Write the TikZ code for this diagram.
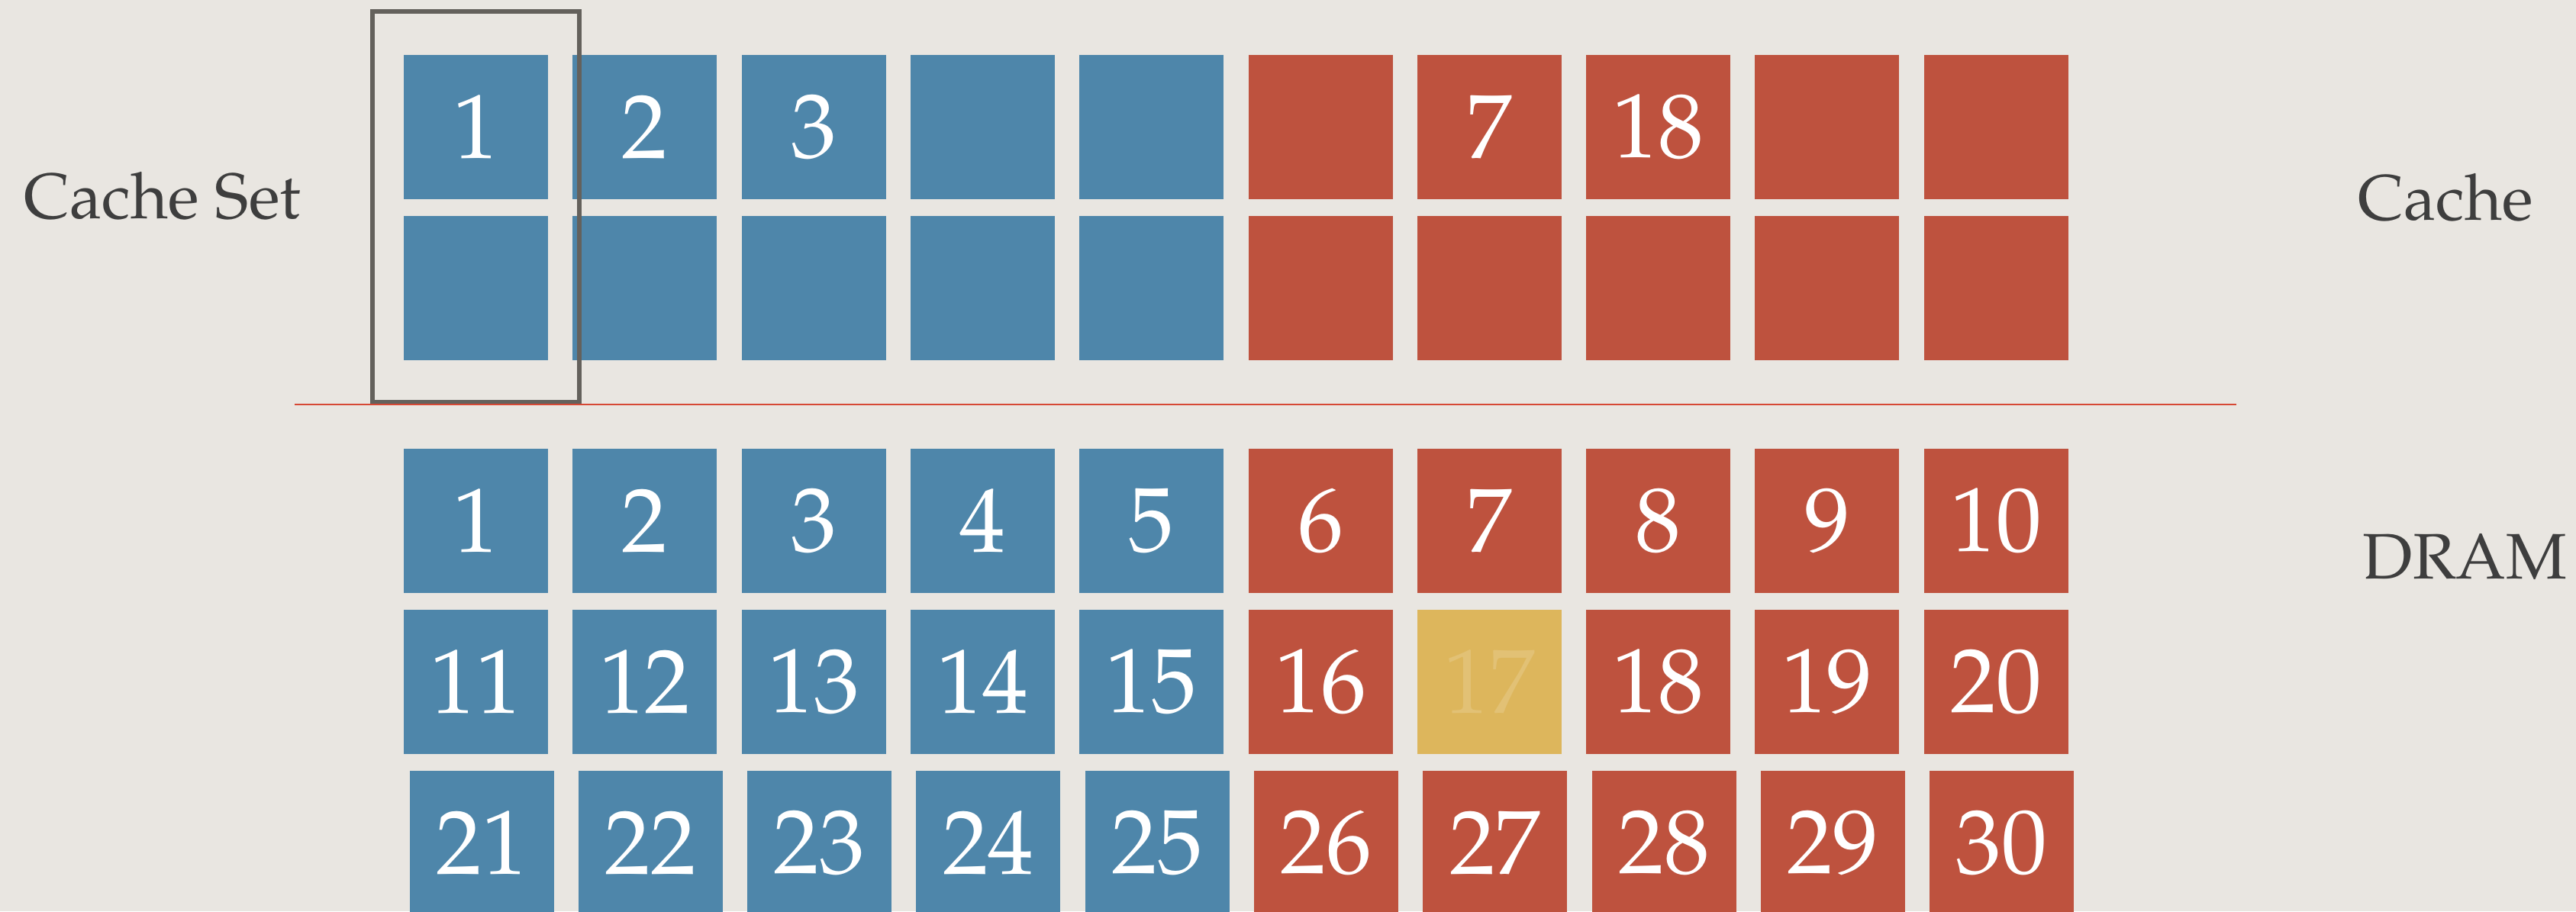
\documentclass[tikz,border=0pt]{standalone}
\usepackage[T1]{fontenc}
\usepackage{palatino}
\definecolor{paper}{RGB}{233,230,225}
\definecolor{slotblue}{RGB}{78,134,170}
\definecolor{slotred}{RGB}{190,82,62}
\definecolor{slotyellow}{RGB}{221,182,92}
\definecolor{ink}{RGB}{62,62,62}
\definecolor{frame}{RGB}{100,97,92}
\definecolor{rule}{RGB}{214,72,52}
\begin{document}
\begin{tikzpicture}[
  blk/.style={minimum width=1.89cm, minimum height=1.89cm, inner sep=0pt, text=white, font=\fontsize{34}{40}\selectfont},
  bblk/.style={blk, fill=slotblue},
  rblk/.style={blk, fill=slotred},
  yblk/.style={blk, fill=slotyellow, text=white!15!slotyellow},
  tag/.style={anchor=base west, inner sep=0pt, text=ink, font=\fontsize{24}{28}\selectfont},
  setbox/.style={draw=frame, line width=1.8pt, minimum width=2.71cm, minimum height=5.12cm, inner sep=0pt}
]
\useasboundingbox (0,0) rectangle (33.75,11.94);
\fill[paper] (0,0) rectangle (33.75,11.94);

% cache, two ways
\node[bblk] (c1) at (6.235,10.275) {1};
\node[bblk] (c2) at (8.448,10.275) {2};
\node[bblk] (c3) at (10.661,10.275) {3};
\node[bblk] (c4) at (12.874,10.275) {};
\node[bblk] (c5) at (15.087,10.275) {};
\node[rblk] (c6) at (17.300,10.275) {};
\node[rblk] (c7) at (19.513,10.275) {7};
\node[rblk] (c8) at (21.726,10.275) {18};
\node[rblk] (c9) at (23.939,10.275) {};
\node[rblk] (c10) at (26.152,10.275) {};
\node[bblk] (c11) at (6.235,8.165) {};
\node[bblk] (c12) at (8.448,8.165) {};
\node[bblk] (c13) at (10.661,8.165) {};
\node[bblk] (c14) at (12.874,8.165) {};
\node[bblk] (c15) at (15.087,8.165) {};
\node[rblk] (c16) at (17.300,8.165) {};
\node[rblk] (c17) at (19.513,8.165) {};
\node[rblk] (c18) at (21.726,8.165) {};
\node[rblk] (c19) at (23.939,8.165) {};
\node[rblk] (c20) at (26.152,8.165) {};

\node[setbox] (set) at (6.235,9.23) {};

% dram
\node[bblk] (d1) at (6.235,5.115) {1};
\node[bblk] (d2) at (8.448,5.115) {2};
\node[bblk] (d3) at (10.661,5.115) {3};
\node[bblk] (d4) at (12.874,5.115) {4};
\node[bblk] (d5) at (15.087,5.115) {5};
\node[rblk] (d6) at (17.300,5.115) {6};
\node[rblk] (d7) at (19.513,5.115) {7};
\node[rblk] (d8) at (21.726,5.115) {8};
\node[rblk] (d9) at (23.939,5.115) {9};
\node[rblk] (d10) at (26.152,5.115) {10};
\node[bblk] (d11) at (6.235,3.005) {11};
\node[bblk] (d12) at (8.448,3.005) {12};
\node[bblk] (d13) at (10.661,3.005) {13};
\node[bblk] (d14) at (12.874,3.005) {14};
\node[bblk] (d15) at (15.087,3.005) {15};
\node[rblk] (d16) at (17.300,3.005) {16};
\node[yblk] (d17) at (19.513,3.005) {17};
\node[rblk] (d18) at (21.726,3.005) {18};
\node[rblk] (d19) at (23.939,3.005) {19};
\node[rblk] (d20) at (26.152,3.005) {20};
\node[bblk] (d21) at (6.310,0.895) {21};
\node[bblk] (d22) at (8.523,0.895) {22};
\node[bblk] (d23) at (10.736,0.895) {23};
\node[bblk] (d24) at (12.949,0.895) {24};
\node[bblk] (d25) at (15.162,0.895) {25};
\node[rblk] (d26) at (17.375,0.895) {26};
\node[rblk] (d27) at (19.588,0.895) {27};
\node[rblk] (d28) at (21.801,0.895) {28};
\node[rblk] (d29) at (24.014,0.895) {29};
\node[rblk] (d30) at (26.227,0.895) {30};

\coordinate (sepl) at (3.86,6.64);
\coordinate (sepr) at (29.30,6.64);
\draw[rule, line width=0.85pt] (sepl) -- (sepr);

\node[tag] (setname) at (0.31,9.07) {Cache Set};
\node[tag] (cachename) at (30.89,9.06) {Cache};
\node[tag] (dramname) at (30.95,4.36) {DRAM};
\end{tikzpicture}
\end{document}
